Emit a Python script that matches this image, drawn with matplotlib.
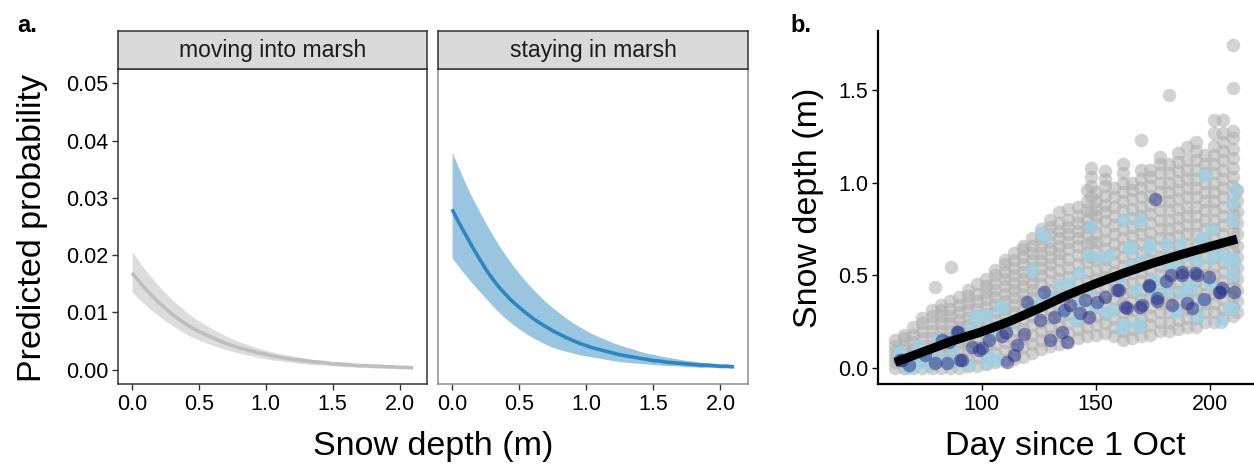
import matplotlib.pyplot as plt
import numpy as np

plt.rcParams['font.family'] = ['Liberation Sans', 'DejaVu Sans']

# ---- panel a: predicted probability vs snow depth ----
snow = [0.0, 0.05, 0.1, 0.15, 0.2, 0.25, 0.3, 0.35, 0.4, 0.45, 0.5, 0.55, 0.6, 0.65, 0.7,
        0.75, 0.8, 0.85, 0.9, 0.95, 1.0, 1.05, 1.1, 1.15, 1.2, 1.25, 1.3, 1.35, 1.4, 1.45,
        1.5, 1.55, 1.6, 1.65, 1.7, 1.75, 1.8, 1.85, 1.9, 1.95, 2.0, 2.05, 2.1]

move_fit = [0.0169, 0.0155, 0.0141, 0.0129, 0.0117, 0.0107, 0.0097, 0.0088, 0.0080, 0.0073, 0.0067,
            0.0061, 0.0056, 0.0051, 0.0046, 0.0042, 0.0038, 0.0035, 0.0032, 0.0029, 0.0027,
            0.0024, 0.0022, 0.0020, 0.0018, 0.0017, 0.0015, 0.0014, 0.0013, 0.0012, 0.0010,
            0.0010, 0.0009, 0.0008, 0.0007, 0.0007, 0.0006, 0.0006, 0.0005, 0.0005, 0.0004,
            0.0004, 0.0003]
move_hi = [0.0207, 0.0190, 0.0174, 0.0160, 0.0146, 0.0134, 0.0122, 0.0112, 0.0102, 0.0093, 0.0085,
           0.0078, 0.0071, 0.0065, 0.0059, 0.0054, 0.0049, 0.0045, 0.0041, 0.0037, 0.0034,
           0.0031, 0.0028, 0.0026, 0.0024, 0.0022, 0.0020, 0.0018, 0.0017, 0.0015, 0.0014,
           0.0013, 0.0012, 0.0011, 0.0010, 0.0009, 0.0008, 0.0008, 0.0007, 0.0006, 0.0006,
           0.0005, 0.0005]
move_lo = [0.0136, 0.0124, 0.0113, 0.0103, 0.0094, 0.0085, 0.0077, 0.0070, 0.0063, 0.0057, 0.0052,
           0.0047, 0.0043, 0.0039, 0.0035, 0.0032, 0.0029, 0.0026, 0.0024, 0.0021, 0.0019,
           0.0017, 0.0016, 0.0014, 0.0013, 0.0011, 0.0010, 0.0009, 0.0008, 0.0008, 0.0007,
           0.0006, 0.0005, 0.0005, 0.0004, 0.0004, 0.0003, 0.0003, 0.0003, 0.0002, 0.0002,
           0.0002, 0.0002]

stay_fit = [0.0280, 0.0257, 0.0236, 0.0215, 0.0195, 0.0176, 0.0159, 0.0144, 0.0131, 0.0119, 0.0109,
            0.0099, 0.0090, 0.0082, 0.0075, 0.0068, 0.0062, 0.0056, 0.0051, 0.0046, 0.0042,
            0.0038, 0.0035, 0.0032, 0.0029, 0.0026, 0.0024, 0.0022, 0.0020, 0.0018, 0.0016,
            0.0015, 0.0013, 0.0012, 0.0011, 0.0010, 0.0009, 0.0008, 0.0008, 0.0007, 0.0006,
            0.0006, 0.0005]
stay_hi = [0.0380, 0.0352, 0.0325, 0.0300, 0.0278, 0.0256, 0.0236, 0.0217, 0.0199, 0.0183, 0.0168,
           0.0154, 0.0141, 0.0129, 0.0118, 0.0108, 0.0099, 0.0090, 0.0082, 0.0075, 0.0068,
           0.0062, 0.0057, 0.0052, 0.0047, 0.0043, 0.0039, 0.0036, 0.0032, 0.0029, 0.0027,
           0.0024, 0.0022, 0.0020, 0.0018, 0.0016, 0.0015, 0.0013, 0.0012, 0.0011, 0.0010,
           0.0009, 0.0008]
stay_lo = [0.0195, 0.0180, 0.0165, 0.0151, 0.0138, 0.0125, 0.0112, 0.0100, 0.0089, 0.0080, 0.0071,
           0.0063, 0.0056, 0.0050, 0.0044, 0.0039, 0.0035, 0.0032, 0.0029, 0.0026, 0.0024,
           0.0022, 0.0020, 0.0018, 0.0016, 0.0014, 0.0013, 0.0012, 0.0011, 0.0010, 0.0009,
           0.0008, 0.0007, 0.0007, 0.0006, 0.0005, 0.0005, 0.0004, 0.0004, 0.0004, 0.0003,
           0.0003, 0.0003]

facet_titles = ['moving into marsh', 'staying in marsh']

# ---- panel b: snow depth vs day ----
gray_days = [62, 66, 70, 74, 78, 82, 86, 90, 94, 98, 102, 106, 110, 114, 118, 122, 126, 130,
             134, 138, 142, 146, 148, 150, 154, 158, 162, 166, 170, 174, 178, 182, 186, 190,
             194, 198, 202, 206, 210, 212]
gray_depths = [
    [0.00, 0.03, 0.06, 0.09, 0.12, 0.15],
    [0.00, 0.03, 0.06, 0.09, 0.12, 0.16, 0.18],
    [0.00, 0.03, 0.07, 0.10, 0.14, 0.18, 0.22],
    [0.00, 0.04, 0.08, 0.12, 0.16, 0.20, 0.24, 0.27],
    [0.00, 0.04, 0.08, 0.12, 0.16, 0.20, 0.24, 0.28, 0.31],
    [0.00, 0.04, 0.08, 0.12, 0.16, 0.20, 0.24, 0.28, 0.31, 0.34],
    [0.00, 0.04, 0.08, 0.12, 0.16, 0.20, 0.24, 0.28, 0.32, 0.36],
    [0.00, 0.05, 0.10, 0.14, 0.18, 0.22, 0.26, 0.30, 0.34, 0.38],
    [0.01, 0.05, 0.10, 0.15, 0.19, 0.23, 0.27, 0.31, 0.35, 0.39, 0.42],
    [0.01, 0.06, 0.11, 0.16, 0.20, 0.24, 0.28, 0.32, 0.36, 0.40, 0.45],
    [0.02, 0.07, 0.12, 0.17, 0.21, 0.25, 0.29, 0.33, 0.37, 0.41, 0.44, 0.48],
    [0.03, 0.08, 0.13, 0.18, 0.22, 0.26, 0.30, 0.34, 0.38, 0.42, 0.46, 0.50, 0.53],
    [0.04, 0.09, 0.14, 0.19, 0.24, 0.28, 0.32, 0.36, 0.40, 0.44, 0.48, 0.52, 0.56, 0.58],
    [0.05, 0.10, 0.15, 0.20, 0.25, 0.30, 0.34, 0.38, 0.42, 0.46, 0.50, 0.54, 0.58, 0.62],
    [0.06, 0.11, 0.16, 0.21, 0.26, 0.31, 0.36, 0.40, 0.44, 0.48, 0.52, 0.56, 0.60, 0.64, 0.66],
    [0.08, 0.13, 0.18, 0.23, 0.28, 0.33, 0.38, 0.42, 0.46, 0.50, 0.54, 0.58, 0.62, 0.66, 0.70],
    [0.10, 0.15, 0.20, 0.25, 0.30, 0.35, 0.40, 0.45, 0.50, 0.54, 0.58, 0.62, 0.66, 0.70, 0.75],
    [0.12, 0.17, 0.22, 0.27, 0.32, 0.37, 0.42, 0.47, 0.52, 0.56, 0.60, 0.64, 0.68, 0.72, 0.76, 0.80],
    [0.13, 0.18, 0.23, 0.28, 0.33, 0.38, 0.43, 0.48, 0.53, 0.58, 0.62, 0.66, 0.70, 0.74, 0.78, 0.84],
    [0.14, 0.19, 0.24, 0.29, 0.34, 0.39, 0.44, 0.49, 0.54, 0.59, 0.64, 0.68, 0.72, 0.76, 0.80, 0.86],
    [0.16, 0.21, 0.26, 0.31, 0.36, 0.41, 0.46, 0.51, 0.56, 0.61, 0.66, 0.70, 0.74, 0.78, 0.82, 0.87],
    [0.17, 0.22, 0.27, 0.32, 0.37, 0.42, 0.47, 0.52, 0.57, 0.62, 0.67, 0.72, 0.76, 0.80, 0.85, 0.90, 0.96],
    [0.60, 0.68, 0.76, 0.84, 0.92, 0.98, 1.03, 1.08],
    [0.18, 0.23, 0.28, 0.33, 0.38, 0.43, 0.48, 0.53, 0.58, 0.63, 0.68, 0.73, 0.78, 0.82, 0.86, 0.90, 0.95],
    [0.19, 0.24, 0.29, 0.34, 0.39, 0.44, 0.49, 0.54, 0.59, 0.64, 0.69, 0.74, 0.79, 0.84, 0.88, 0.93, 0.98, 1.02, 1.06],
    [0.17, 0.22, 0.27, 0.32, 0.37, 0.42, 0.47, 0.52, 0.57, 0.62, 0.67, 0.72, 0.77, 0.82, 0.87, 0.92, 0.97],
    [0.15, 0.20, 0.25, 0.30, 0.35, 0.40, 0.45, 0.50, 0.55, 0.60, 0.65, 0.70, 0.75, 0.80, 0.85, 0.90, 0.95, 1.00, 1.05, 1.10],
    [0.16, 0.21, 0.26, 0.31, 0.36, 0.41, 0.46, 0.51, 0.56, 0.61, 0.66, 0.71, 0.76, 0.81, 0.86, 0.91, 0.96, 1.00],
    [0.17, 0.22, 0.27, 0.32, 0.37, 0.42, 0.47, 0.52, 0.57, 0.62, 0.67, 0.72, 0.77, 0.82, 0.87, 0.92, 0.97, 1.02, 1.07, 1.23],
    [0.18, 0.23, 0.28, 0.33, 0.38, 0.43, 0.48, 0.53, 0.58, 0.63, 0.68, 0.73, 0.78, 0.83, 0.88, 0.93, 0.98, 1.03, 1.07],
    [0.20, 0.25, 0.30, 0.35, 0.40, 0.45, 0.50, 0.55, 0.60, 0.65, 0.70, 0.75, 0.80, 0.85, 0.90, 0.95, 1.00, 1.05, 1.10, 1.14],
    [0.20, 0.25, 0.30, 0.35, 0.40, 0.45, 0.50, 0.55, 0.60, 0.65, 0.70, 0.75, 0.80, 0.85, 0.90, 0.95, 1.00, 1.05, 1.10, 1.47],
    [0.21, 0.26, 0.31, 0.36, 0.41, 0.46, 0.51, 0.56, 0.61, 0.66, 0.71, 0.76, 0.81, 0.86, 0.91, 0.96, 1.01, 1.06, 1.11, 1.16],
    [0.22, 0.27, 0.32, 0.37, 0.42, 0.47, 0.52, 0.57, 0.62, 0.67, 0.72, 0.77, 0.82, 0.87, 0.92, 0.97, 1.02, 1.07, 1.12, 1.19],
    [0.22, 0.27, 0.32, 0.37, 0.42, 0.47, 0.52, 0.57, 0.62, 0.67, 0.72, 0.77, 0.82, 0.87, 0.92, 0.97, 1.02, 1.07, 1.12, 1.17, 1.22],
    [0.25, 0.30, 0.35, 0.40, 0.45, 0.50, 0.55, 0.60, 0.65, 0.70, 0.75, 0.80, 0.85, 0.90, 0.95, 1.00, 1.05, 1.10, 1.15],
    [0.25, 0.30, 0.35, 0.40, 0.45, 0.50, 0.55, 0.60, 0.65, 0.70, 0.75, 0.80, 0.85, 0.90, 0.95, 1.00, 1.05, 1.10, 1.15, 1.20, 1.27, 1.34],
    [0.27, 0.32, 0.37, 0.42, 0.47, 0.52, 0.57, 0.62, 0.67, 0.72, 0.77, 0.82, 0.87, 0.92, 0.97, 1.02, 1.07, 1.12, 1.17, 1.22, 1.27, 1.34],
    [0.28, 0.33, 0.38, 0.43, 0.48, 0.53, 0.58, 0.63, 0.68, 0.73, 0.78, 0.83, 0.88, 0.93, 0.98, 1.03, 1.08, 1.13, 1.18, 1.24, 1.28, 1.51, 1.74],
    [0.30, 0.36, 0.42, 0.48, 0.54, 0.60, 0.66, 0.72, 0.78, 0.84, 0.90, 0.96],
]
gray_extra_day = [79.5, 86.4]
gray_extra_depth = [0.435, 0.543]

light_day = [64.3, 72.3, 80.4, 88.4, 97.2, 101.6, 108.9, 103.1, 94.3, 113.3, 120.6, 125.0, 129.4,
             133.8, 122.1, 127.9, 142.5, 146.9, 151.3, 155.7, 165.2, 173.3, 182.1, 189.4, 196.7,
             201.1, 209.9, 209.9, 196.7, 208.4, 160.9, 168.9, 157.2, 176.2, 187.9, 180.6, 167.5,
             160.1, 141.1, 138.2, 69.5, 76.8, 87.0, 72.3, 197.4, 162.3, 169.6, 211.3, 209.8, 209.8,
             201.0, 148.0, 126.0, 163.0, 168.9, 209.8, 192.1, 180.7, 187.3, 196.0, 207.6, 210.5,
             164.4, 173.2,
             63.5, 66.7, 71.5, 75.9, 79.5, 82.5, 87.6, 94.2, 97.8, 102.2, 103.6, 108.0, 106.6,
             102.2, 143.0, 150.0, 155.0, 147.0, 135.0, 165.0, 170.0, 178.0, 185.0, 195.0, 205.0,
             200.0, 190.0, 175.0, 185.0, 195.0, 205.0]
light_depth = [0.088, 0.117, 0.151, 0.178, 0.277, 0.286, 0.331, 0.061, 0.016, 0.259, 0.313, 0.349, 0.385,
               0.448, 0.526, 0.708, 0.510, 0.609, 0.600, 0.609, 0.654, 0.663, 0.564, 0.609, 0.699,
               0.591, 0.591, 0.501, 0.367, 0.322, 0.214, 0.223, 0.313, 0.475, 0.403, 0.421, 0.421,
               0.475, 0.259, 0.457, 0.007, 0.016, 0.025, 0.034, 1.04, 0.80, 0.80, 0.96, 0.89, 0.80,
               0.75, 0.76, 0.73, 0.23, 0.24, 0.32, 0.43, 0.67, 0.67, 0.69, 0.58, 0.57,
               0.64, 0.65,
               0.079, 0.000, 0.025, 0.061, 0.100, 0.043, 0.097, 0.205, 0.277, 0.286, 0.187, 0.331, 0.043,
               0.025, 0.35, 0.33, 0.30, 0.42, 0.30, 0.55, 0.58, 0.58, 0.55, 0.58, 0.62,
               0.45, 0.44, 0.40, 0.30, 0.28, 0.25]

dark_day = [64.3, 89.2, 90.6, 98.7, 111.2, 110.7, 118.4, 119.9, 127.2, 125.7, 131.6, 130.1, 135.2,
            137.4, 138.9, 145.5, 146.9, 150.6, 154.2, 159.4, 163.8, 169.6, 173.3, 176.9, 182.8,
            187.9, 192.3, 193.7, 204.7, 210.5, 205.4, 143.3, 136.0, 82.6, 75.3, 68.0, 79.7, 85.5,
            95.8, 103.1, 109.0, 115.5, 114.0, 176.2, 163.0, 170.3, 176.9, 183.5, 190.1, 197.4,
            204.0, 173.4, 180.7, 188.0, 194.6, 199.7, 160.0,
            89.8, 91.2, 100.0, 84.6, 64.9]
dark_depth = [0.043, 0.196, 0.043, 0.097, 0.034, 0.196, 0.185, 0.357, 0.412, 0.259, 0.277, 0.151, 0.196,
              0.142, 0.340, 0.367, 0.277, 0.357, 0.385, 0.421, 0.322, 0.331, 0.448, 0.376, 0.501,
              0.519, 0.322, 0.510, 0.412, 0.412, 0.430, 0.295, 0.313, 0.151, 0.070, 0.016, 0.025, 0.140,
              0.110, 0.151, 0.170, 0.126, 0.070, 0.91, 0.33, 0.34, 0.36, 0.34, 0.35, 0.37,
              0.41, 0.44, 0.47, 0.50, 0.50, 0.49, 0.42,
              0.196, 0.043, 0.106, 0.025, 0.043]

trend_day = [62, 75, 87, 100, 112, 125, 137, 150, 162, 175, 187, 200, 212]
trend_depth = [0.03, 0.09, 0.145, 0.195, 0.25, 0.32, 0.39, 0.455, 0.51, 0.565, 0.61, 0.655, 0.695]

W, H = 1254, 468
fig = plt.figure(figsize=(W / 100, H / 100), dpi=100)


def box(x0, y0, x1, y1):
    # pixel box (top-left origin) -> figure fraction rect
    return [x0 / W, 1 - y1 / H, (x1 - x0) / W, (y1 - y0) / H]


tick_fs = 15.5
title_fs = 24.5

facets = [
    (118, 427, move_fit, move_lo, move_hi, '#bebebe', '#dcdcdc', '#333333'),
    (438, 748, stay_fit, stay_lo, stay_hi, '#2e86c1', '#99c5e0', '#8c8c8c'),
]
for i, (x0, x1, fit, lo, hi, lc, fc, ec) in enumerate(facets):
    ax = fig.add_axes(box(x0, 69, x1, 384))
    ax.fill_between(snow, lo, hi, color=fc, lw=0)
    ax.plot(snow, fit, color=lc, lw=2.6, solid_capstyle='butt')
    ax.set_xlim(-0.105, 2.205)
    ax.set_ylim(-0.0025, 0.0525)
    ax.set_xticks([0.0, 0.5, 1.0, 1.5, 2.0])
    ax.set_xticklabels(['0.0', '0.5', '1.0', '1.5', '2.0'])
    ax.set_yticks([0.0, 0.01, 0.02, 0.03, 0.04, 0.05])
    ax.set_yticklabels(['0.00', '0.01', '0.02', '0.03', '0.04', '0.05'])
    for s in ax.spines.values():
        s.set_color(ec)
        s.set_linewidth(1.1)
    ax.tick_params(length=4, width=1, color='#333333', labelsize=tick_fs,
                   labelcolor='black', pad=3)
    if i == 1:
        ax.tick_params(axis='y', left=False, labelleft=False)
    st = fig.add_axes(box(x0, 31, x1, 69))
    st.set_facecolor('#d9d9d9')
    st.set_xticks([])
    st.set_yticks([])
    for s in st.spines.values():
        s.set_color('#333333')
        s.set_linewidth(1.1)
    st.text(0.5, 0.5, facet_titles[i], ha='center', va='center', fontsize=16.5,
            color='#1a1a1a', transform=st.transAxes)

fig.text(33 / W, 1 - 228 / H, 'Predicted probability', rotation=90, ha='center',
         va='center', fontsize=title_fs)
fig.text(433 / W, 1 - 447 / H, 'Snow depth (m)', ha='center', va='center', fontsize=title_fs)
fig.text(17 / W, 1 - 26 / H, 'a.', ha='left', va='center', fontsize=17, fontweight='bold')
fig.text(790 / W, 1 - 26 / H, 'b.', ha='left', va='center', fontsize=17, fontweight='bold')

# ---- panel b ----
bx = fig.add_axes(box(878, 31, W, 384))
gx, gy = [], []
for d, vals in zip(gray_days, gray_depths):
    gx += [d] * len(vals)
    gy += vals
gx += gray_extra_day
gy += gray_extra_depth
ms = 95
bx.scatter(gx, gy, s=ms, color='#adadad', alpha=0.55, lw=0)
bx.scatter(light_day, light_depth, s=ms, color='#9fcfe2', alpha=0.75, lw=0)
bx.scatter(dark_day, dark_depth, s=ms, color='#23308a', alpha=0.5, lw=0)
bx.plot(trend_day, trend_depth, color='black', lw=6.5, solid_capstyle='butt')
bx.set_xlim(54.5, 54.5 + (W - 878) / 2.28)
bx.set_ylim(-0.087, 1.818)
bx.set_xticks([100, 150, 200])
bx.set_yticks([0.0, 0.5, 1.0, 1.5])
bx.set_yticklabels(['0.0', '0.5', '1.0', '1.5'])
bx.spines['top'].set_visible(False)
bx.spines['right'].set_visible(False)
for s in ['left', 'bottom']:
    bx.spines[s].set_color('black')
    bx.spines[s].set_linewidth(1.6)
bx.tick_params(length=4, width=1, color='black', labelsize=tick_fs, labelcolor='black', pad=3)
bx.set_facecolor('none')

fig.text(808 / W, 1 - 208 / H, 'Snow depth (m)', rotation=90, ha='center', va='center',
         fontsize=title_fs)
fig.text(1065 / W, 1 - 447 / H, 'Day since 1 Oct', ha='center', va='center', fontsize=title_fs)

fig.savefig('out.png', dpi=100)
